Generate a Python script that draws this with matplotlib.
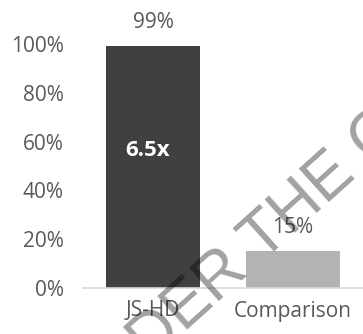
import matplotlib
matplotlib.use("Agg")
import matplotlib.pyplot as plt
import matplotlib.ticker as mticker

categories = ["JS-HD", "Comparison"]
values = [0.99, 0.15]
value_labels = ["99%", "15%"]
ratio_label = "6.5x"
yticks = [0, 0.2, 0.4, 0.6, 0.8, 1.0]
watermark = "UNDER THE CO"

TXT = "#595959"
plt.rcParams["font.family"] = ["Open Sans", "DejaVu Sans"]

fig = plt.figure(figsize=(3.63, 3.34), dpi=100)
ax = fig.add_axes([83 / 363, 46 / 334, 280 / 363, 244 / 334])

x = range(len(categories))
ax.bar(x, values, width=0.67, color=["#404040", "#b3b3b3"], zorder=2)
ax.set_xlim(-0.5, 1.5)
ax.set_ylim(0, 1.0)
ax.set_yticks(yticks)
ax.yaxis.set_major_formatter(mticker.FuncFormatter(lambda v, _: f"{v*100:.0f}%"))
ax.set_xticks(list(x))
ax.set_xticklabels(categories)
ax.tick_params(axis="both", length=0, labelsize=15, colors=TXT)
ax.tick_params(axis="y", pad=14)
ax.tick_params(axis="x", pad=9)
for s in ["top", "right", "left"]:
    ax.spines[s].set_visible(False)
ax.spines["bottom"].set_color("#d9d9d9")
ax.spines["bottom"].set_linewidth(1.2)

for i, (v, lab) in enumerate(zip(values, value_labels)):
    ax.text(i, v + 0.055, lab, ha="center", va="bottom", fontsize=15, color=TXT,
            clip_on=False)
ax.text(-0.04, 0.565, ratio_label, ha="center", va="center", fontsize=16,
        fontweight="bold", color="white")

# faint watermark across the plot
fig.text(82 / 363, 1 - 426 / 334, watermark, rotation=42, rotation_mode="anchor",
         ha="left", va="baseline", fontsize=46, color="black", alpha=0.37,
         family="Liberation Sans")

fig.savefig("out.png", dpi=100)
